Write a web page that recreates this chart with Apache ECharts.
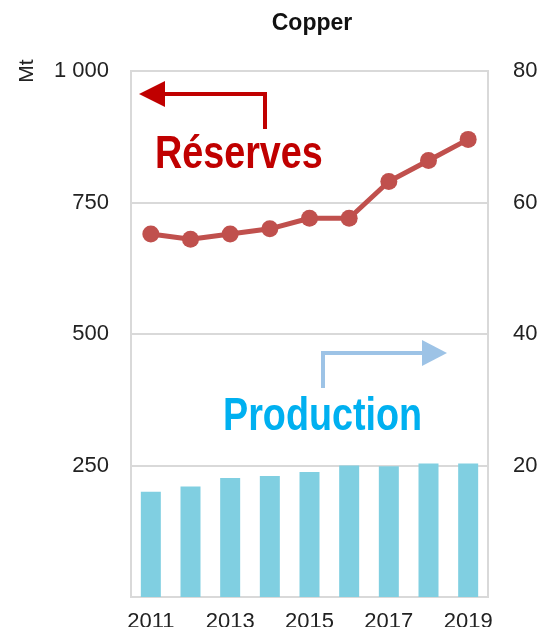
<!DOCTYPE html>
<html>
<head>
<meta charset="utf-8">
<script src="https://cdn.jsdelivr.net/npm/echarts@6/dist/echarts.min.js"></script>
<style>
html,body{margin:0;padding:0;background:#fff;}
#chart{width:541px;height:627px;}
</style>
</head>
<body>
<div id="chart"></div>
<script>
const years = ['2011','2012','2013','2014','2015','2016','2017','2018','2019'];
const reserves = [690, 680, 690, 700, 720, 720, 790, 830, 870];
const production = [16.0, 16.8, 18.1, 18.4, 19.0, 20.0, 19.9, 20.3, 20.3];
const leftTicks = [0, 250, 500, 750, 1000];
const rightTicks = [0, 20, 40, 60, 80];

const chart = echarts.init(document.getElementById('chart'), null, {renderer:'canvas'});
const font = 'Liberation Sans, Arial, sans-serif';

chart.setOption({
  animation: false,
  backgroundColor: '#ffffff',
  title: {
    text: 'Copper', left: 307, top: 7, textAlign: 'center',
    textStyle: {fontSize: 23, fontWeight: 'bold', color: '#111', fontFamily: font}
  },
  grid: {
    left: 131, right: 53, top: 71, bottom: 30,
    show: true, borderColor: '#d9d9d9', borderWidth: 2,
    containLabel: false, outerBoundsMode: 'none'
  },
  xAxis: {
    type: 'category', data: years,
    axisLine: {show: false}, axisTick: {show: false},
    axisLabel: {interval: 1, fontSize: 22, color: '#222', margin: 14, fontFamily: font}
  },
  yAxis: [
    {
      type: 'value', min: leftTicks[0], max: leftTicks[leftTicks.length-1], interval: 250,
      axisLine: {show: false}, axisTick: {show: false},
      splitLine: {lineStyle: {color: '#d9d9d9', width: 2}},
      axisLabel: {
        showMinLabel: false, fontSize: 22, color: '#222', margin: 22, fontFamily: font,
        formatter: v => v >= 1000 ? String(v).replace(/\B(?=(\d{3})+(?!\d))/g, ' ') : String(v)
      }
    },
    {
      type: 'value', min: rightTicks[0], max: rightTicks[rightTicks.length-1], interval: 20,
      axisLine: {show: false}, axisTick: {show: false}, splitLine: {show: false},
      axisLabel: {showMinLabel: false, fontSize: 22, color: '#222', margin: 25, fontFamily: font}
    }
  ],
  series: [
    {
      name: 'Production', type: 'bar', yAxisIndex: 1, data: production,
      barWidth: 20, itemStyle: {color: '#80cfe1'}
    },
    {
      name: 'Réserves', type: 'line', yAxisIndex: 0, data: reserves,
      symbol: 'circle', symbolSize: 17,
      lineStyle: {color: '#c0504d', width: 5},
      itemStyle: {color: '#c0504d'}
    }
  ],
  graphic: [
    {type: 'text', x: 27, y: 71, rotation: Math.PI/2,
     style: {text: 'Mt', fontSize: 21, fill: '#222', fontFamily: font, align: 'center', verticalAlign: 'middle'}},
    {type: 'polyline', shape: {points: [[265,129],[265,94],[162,94]]},
     style: {stroke: '#c00000', lineWidth: 4, fill: null}},
    {type: 'polygon', shape: {points: [[139,94],[165,81],[165,107]]},
     style: {fill: '#c00000'}},
    {type: 'text', x: 155, y: 155, scaleX: 0.82,
     style: {text: 'Réserves', fontSize: 46, fontWeight: 'bold', fill: '#c00000', fontFamily: font, verticalAlign: 'middle'}},
    {type: 'polyline', shape: {points: [[323,388],[323,353],[424,353]]},
     style: {stroke: '#9dc3e6', lineWidth: 4, fill: null}},
    {type: 'polygon', shape: {points: [[422,340],[447,353],[422,366]]},
     style: {fill: '#9dc3e6'}},
    {type: 'text', x: 223, y: 417, scaleX: 0.82,
     style: {text: 'Production', fontSize: 46, fontWeight: 'bold', fill: '#00b0f0', fontFamily: font, verticalAlign: 'middle'}}
  ]
});
</script>
</body>
</html>
